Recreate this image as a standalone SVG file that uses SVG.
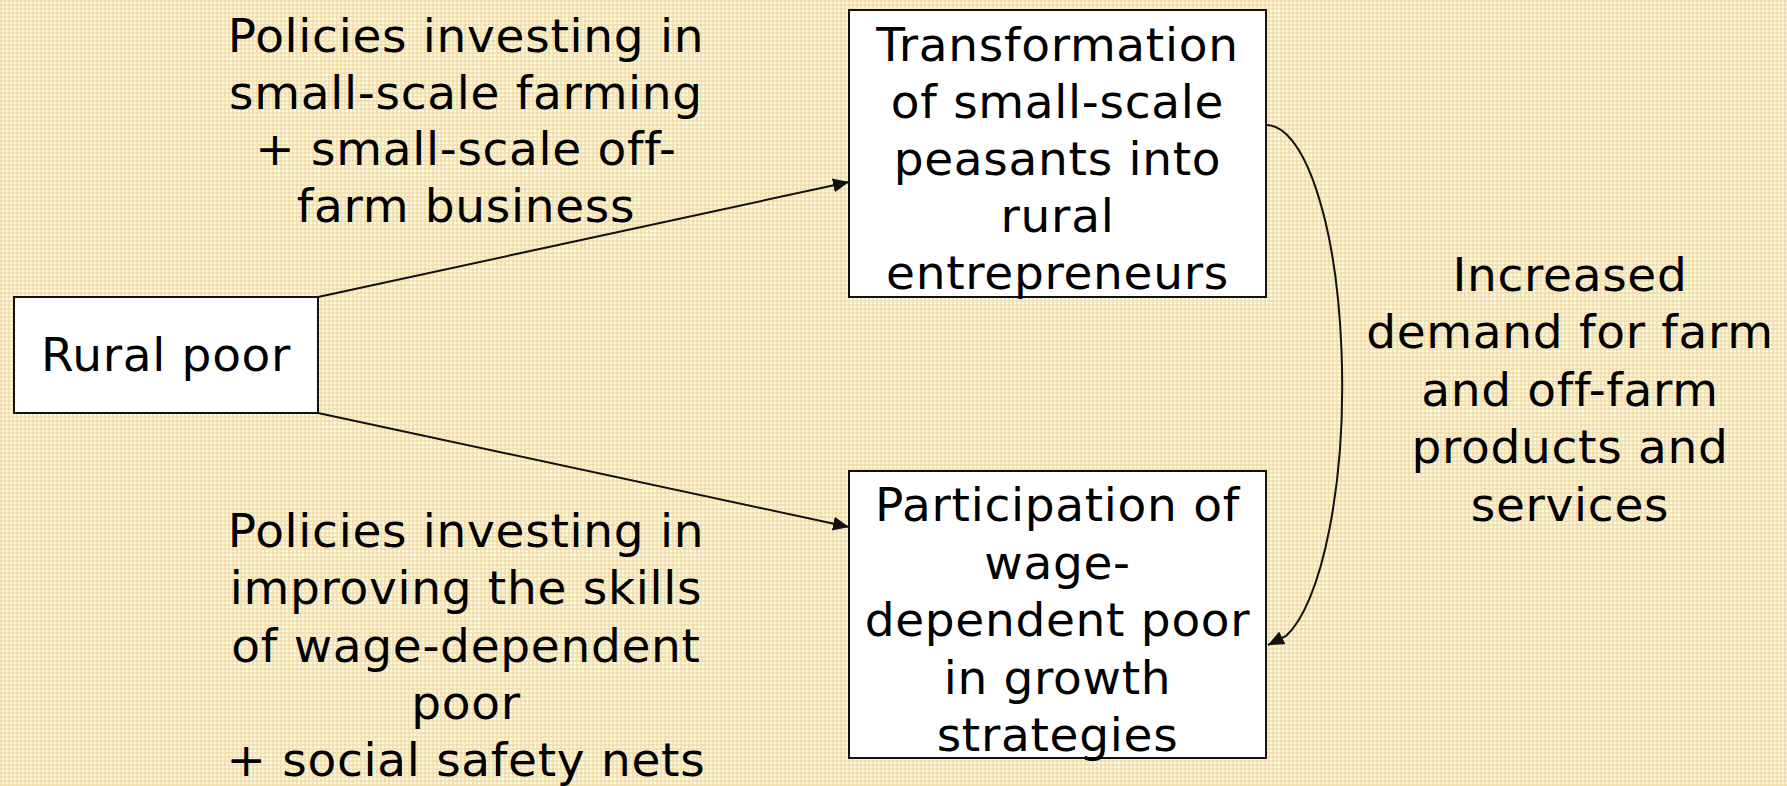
<svg xmlns="http://www.w3.org/2000/svg" width="1787" height="786" viewBox="0 0 1787 786">
  <style>
    .box { fill: #ffffff; stroke: #111111; stroke-width: 2; }
    .lbl { font-family: "DejaVu Sans", Verdana, "Liberation Sans", sans-serif; font-size: 47px; letter-spacing: 0.7px; fill: #000000; text-anchor: middle; }
    .link { fill: none; stroke: #111111; stroke-width: 2; marker-end: url(#arrow); }
  </style>
  <defs>
    <!-- parchment-like woven grid backdrop -->
    <pattern id="weave" width="4" height="4" patternUnits="userSpaceOnUse">
      <rect width="4" height="4" fill="#fdf8e8"/>
      <rect x="0" y="0" width="2" height="4" fill="#f0dba0" opacity="0.65"/>
      <rect x="0" y="0" width="4" height="2" fill="#f0dba0" opacity="0.65"/>
    </pattern>
    <marker id="arrow" markerUnits="userSpaceOnUse" markerWidth="16" markerHeight="14" refX="16" refY="7" orient="auto">
      <path d="M0,0 L16,7 L0,14 z" fill="#111111"/>
    </marker>
  </defs>

  <rect width="1787" height="786" fill="url(#weave)"/>

  <!-- free-standing labels -->
  <g id="policy-farming">
    <text class="lbl" x="466" y="52">Policies investing in</text>
    <text class="lbl" x="466" y="108.5">small-scale farming</text>
    <text class="lbl" x="466" y="165">+ small-scale off-</text>
    <text class="lbl" x="466" y="221.5">farm business</text>
  </g>
  <g id="policy-skills">
    <text class="lbl" x="466" y="547">Policies investing in</text>
    <text class="lbl" x="466" y="604.3">improving the skills</text>
    <text class="lbl" x="466" y="661.6">of wage-dependent</text>
    <text class="lbl" x="466" y="718.9">poor</text>
    <text class="lbl" x="466" y="776.2">+ social safety nets</text>
  </g>
  <g id="demand">
    <text class="lbl" x="1570" y="291">Increased</text>
    <text class="lbl" x="1570" y="348.4">demand for farm</text>
    <text class="lbl" x="1570" y="405.8">and off-farm</text>
    <text class="lbl" x="1570" y="463.2">products and</text>
    <text class="lbl" x="1570" y="520.6">services</text>
  </g>

  <!-- connectors -->
  <g id="connectors">
    <path class="link" d="M318,297 L849,182"/>
    <path class="link" d="M318,413 L849,527"/>
    <path class="link" d="M1266,125 A76,260 0 0 1 1286,636 L1268,645"/>
  </g>

  <!-- nodes -->
  <g id="rural-poor">
    <rect class="box" x="14" y="297" width="304" height="116"/>
    <text class="lbl" x="166" y="371">Rural poor</text>
  </g>
  <g id="transformation">
    <rect class="box" x="849" y="10" width="417" height="287"/>
    <text class="lbl" x="1057.5" y="61">Transformation</text>
    <text class="lbl" x="1057.5" y="118">of small-scale</text>
    <text class="lbl" x="1057.5" y="175">peasants into</text>
    <text class="lbl" x="1057.5" y="232">rural</text>
    <text class="lbl" x="1057.5" y="289">entrepreneurs</text>
  </g>
  <g id="participation">
    <rect class="box" x="849" y="471" width="417" height="287"/>
    <text class="lbl" x="1057.5" y="521">Participation of</text>
    <text class="lbl" x="1057.5" y="578.5">wage-</text>
    <text class="lbl" x="1057.5" y="636">dependent poor</text>
    <text class="lbl" x="1057.5" y="693.5">in growth</text>
    <text class="lbl" x="1057.5" y="751">strategies</text>
  </g>
</svg>
